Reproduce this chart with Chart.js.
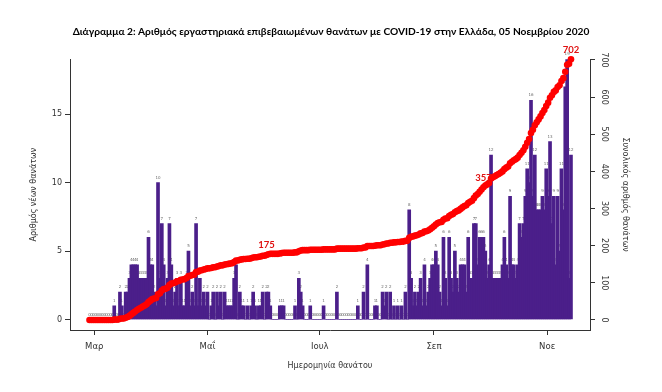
<!DOCTYPE html>
<html lang="el">
<head>
<meta charset="utf-8">
<title>Θάνατοι COVID-19 Ελλάδα</title>
<script src="https://cdn.jsdelivr.net/npm/chart.js@4.4.1/dist/chart.umd.min.js"></script>
<style>
    html, body { margin: 0; padding: 0; background: #ffffff; }
    .chart-box { width: 662px; height: 392px; }
</style>
</head>
<body>
<div class="chart-box"><canvas id="deathsChart" width="662" height="392"></canvas></div>
<script>
// --- Datos: una barra por día, del 26/02/2020 (día 0) al 05/11/2020 (día 253) ---
const dailyDeaths = [
    0, 0, 0, 0, 0, 0, 0, 0, 0, 0,
    0, 0, 0, 1, 0, 0, 2, 1, 0, 2,
    2, 3, 4, 4, 4, 4, 3, 3, 3, 3,
    3, 6, 4, 4, 2, 1, 10, 3, 7, 4,
    1, 3, 7, 4, 1, 2, 3, 1, 3, 1,
    1, 3, 5, 1, 2, 1, 7, 1, 3, 1,
    2, 1, 2, 0, 1, 2, 0, 2, 1, 2,
    0, 2, 1, 1, 1, 1, 3, 4, 0, 2,
    1, 1, 0, 1, 0, 1, 2, 1, 0, 1,
    1, 2, 0, 2, 2, 1, 0, 0, 0, 0,
    1, 1, 1, 0, 0, 0, 0, 0, 1, 0,
    3, 2, 1, 0, 0, 0, 1, 0, 0, 0,
    0, 0, 0, 1, 0, 0, 0, 0, 0, 0,
    2, 0, 0, 0, 0, 0, 0, 0, 0, 0,
    0, 1, 0, 0, 2, 0, 4, 0, 0, 0,
    1, 1, 0, 0, 2, 1, 2, 0, 2, 0,
    1, 0, 1, 0, 1, 0, 2, 0, 8, 3,
    1, 2, 1, 2, 3, 1, 4, 1, 2, 3,
    4, 4, 5, 4, 2, 1, 6, 3, 1, 6,
    3, 2, 5, 3, 2, 4, 4, 4, 2, 6,
    3, 3, 7, 7, 4, 6, 6, 6, 5, 3,
    4, 12, 3, 3, 3, 3, 3, 4, 6, 4,
    3, 9, 4, 4, 3, 4, 7, 6, 7, 9,
    11, 10, 16, 9, 12, 8, 8, 8, 9, 8,
    11, 9, 13, 7, 9, 4, 9, 5, 11, 8,
    17, 19, 3, 12
];

// Marcas del eje X (posición en días desde el inicio, tal como salen en el original)
const monthTickDays = [2.5, 62, 121, 181, 240.5];
const monthTickLabels = ["Μαρ", "Μαΐ", "Ιουλ", "Σεπ", "Νοε"];

const leftTicks = [0, 5, 10, 15];
const rightTicks = [0, 100, 200, 300, 400, 500, 600, 700];

// Totales acumulados que se rotulan sobre la curva roja
const highlightTotals = [175, 357, 702];

document.addEventListener("DOMContentLoaded", () => {
    // --- 1. Acumulado a partir de los datos diarios ---
    let running = 0;
    const cumulative = dailyDeaths.map((v) => (running += v));

    const barPoints = dailyDeaths.map((v, i) => ({ x: i, y: v }));
    const cumPoints = cumulative.map((v, i) => ({ x: i, y: v }));

    // --- 2. Plugin: numeritos encima de cada barra (los ceros forman la franja gris) ---
    const barValueLabels = {
        id: "barValueLabels",
        beforeDatasetsDraw(chart) {
            const meta = chart.getDatasetMeta(1);
            const ctx = chart.ctx;
            ctx.save();
            ctx.font = "4px 'DejaVu Sans'";
            ctx.fillStyle = "#6a6a6a";
            ctx.textAlign = "center";
            ctx.textBaseline = "bottom";
            meta.data.forEach((bar, i) => {
                ctx.fillText(String(dailyDeaths[i]), bar.x, bar.y - 3);
            });
            ctx.restore();
        },
    };

    // --- 3. Plugin: rótulos rojos del acumulado (175, 357, 702) ---
    const totalLabels = {
        id: "totalLabels",
        afterDatasetsDraw(chart) {
            const meta = chart.getDatasetMeta(0);
            const ctx = chart.ctx;
            ctx.save();
            ctx.font = "bold 9.5px Lato";
            ctx.fillStyle = "#e01010";
            ctx.textAlign = "center";
            ctx.textBaseline = "bottom";
            highlightTotals.forEach((total) => {
                const idx = cumulative.findIndex((c) => c >= total);
                if (idx < 0) return;
                const pt = meta.data[idx];
                ctx.fillText(String(total), pt.x, pt.y - 5);
            });
            ctx.restore();
        },
    };

    const axisColor = "#333333";
    const tickFont = { family: "DejaVu Sans", size: 8 };

    const ctx = document.getElementById("deathsChart");
    new Chart(ctx, {
        type: "bar",
        data: {
            datasets: [
                {
                    type: "line",
                    label: "Συνολικός αριθμός θανάτων",
                    data: cumPoints,
                    yAxisID: "y1",
                    showLine: false,
                    pointRadius: 3.3,
                    pointBorderWidth: 0,
                    pointBackgroundColor: "#ff0000",
                    pointHoverRadius: 3.3,
                    clip: false,
                    order: 0,
                },
                {
                    type: "bar",
                    label: "Αριθμός νέων θανάτων",
                    data: barPoints,
                    yAxisID: "y",
                    backgroundColor: "#4b1f8a",
                    borderWidth: 0,
                    barThickness: 3,
                    order: 1,
                },
            ],
        },
        options: {
            responsive: false,
            animation: false,
            layout: { padding: 0 },
            scales: {
                x: {
                    type: "linear",
                    position: "bottom",
                    min: -10.25,
                    max: 263,
                    offset: false,
                    bounds: "data",
                    afterBuildTicks: (scale) => {
                        scale.ticks = monthTickDays.map((v) => ({ value: v }));
                    },
                    afterFit: (scale) => {
                        scale.height = 62;
                    },
                    ticks: {
                        autoSkip: false,
                        maxRotation: 0,
                        minRotation: 0,
                        padding: 7,
                        color: axisColor,
                        font: { family: "DejaVu Sans", size: 8.5 },
                        callback: (value, index) => monthTickLabels[index],
                    },
                    grid: {
                        offset: false,
                        drawOnChartArea: false,
                        tickLength: 5,
                        tickColor: axisColor,
                    },
                    border: { display: true, color: axisColor, width: 1 },
                    title: {
                        display: true,
                        text: "Ημερομηνία θανάτου",
                        color: axisColor,
                        font: { family: "DejaVu Sans", size: 8 },
                        padding: { top: 0, bottom: 21 },
                    },
                },
                y: {
                    type: "linear",
                    position: "left",
                    min: -0.77,
                    max: 19.01,
                    bounds: "data",
                    afterBuildTicks: (scale) => {
                        scale.ticks = leftTicks.map((v) => ({ value: v }));
                    },
                    afterFit: (scale) => {
                        scale.width = 70;
                    },
                    ticks: {
                        padding: 3,
                        color: axisColor,
                        font: tickFont,
                    },
                    grid: {
                        drawOnChartArea: false,
                        tickLength: 5,
                        tickColor: axisColor,
                    },
                    border: { display: true, color: axisColor, width: 1 },
                    title: {
                        display: true,
                        text: "Αριθμός νέων θανάτων",
                        color: axisColor,
                        font: { family: "DejaVu Sans", size: 8 },
                        padding: { top: 29, bottom: 0 },
                    },
                },
                y1: {
                    type: "linear",
                    position: "right",
                    min: -27,
                    max: 701.9,
                    bounds: "data",
                    afterBuildTicks: (scale) => {
                        scale.ticks = rightTicks.map((v) => ({ value: v }));
                    },
                    afterFit: (scale) => {
                        scale.width = 72;
                    },
                    ticks: {
                        minRotation: -90,
                        maxRotation: -90,
                        crossAlign: "center",
                        padding: 1,
                        color: axisColor,
                        font: tickFont,
                    },
                    grid: {
                        drawOnChartArea: false,
                        tickLength: 5,
                        tickColor: axisColor,
                    },
                    border: { display: true, color: axisColor, width: 1 },
                    title: {
                        display: true,
                        text: "Συνολικός αριθμός θανάτων",
                        color: axisColor,
                        font: { family: "DejaVu Sans", size: 8 },
                        padding: { top: 32, bottom: 0 },
                    },
                },
            },
            plugins: {
                legend: { display: false },
                tooltip: { enabled: false },
                title: {
                    display: true,
                    text: "Διάγραμμα 2: Αριθμός εργαστηριακά επιβεβαιωμένων θανάτων με COVID-19 στην Ελλάδα, 05 Νοεμβρίου 2020",
                    color: "#000000",
                    font: { family: "Lato", size: 10.2, weight: "bold" },
                    padding: { top: 26, bottom: 21 },
                },
            },
        },
        plugins: [barValueLabels, totalLabels],
    });
});
</script>
</body>
</html>
